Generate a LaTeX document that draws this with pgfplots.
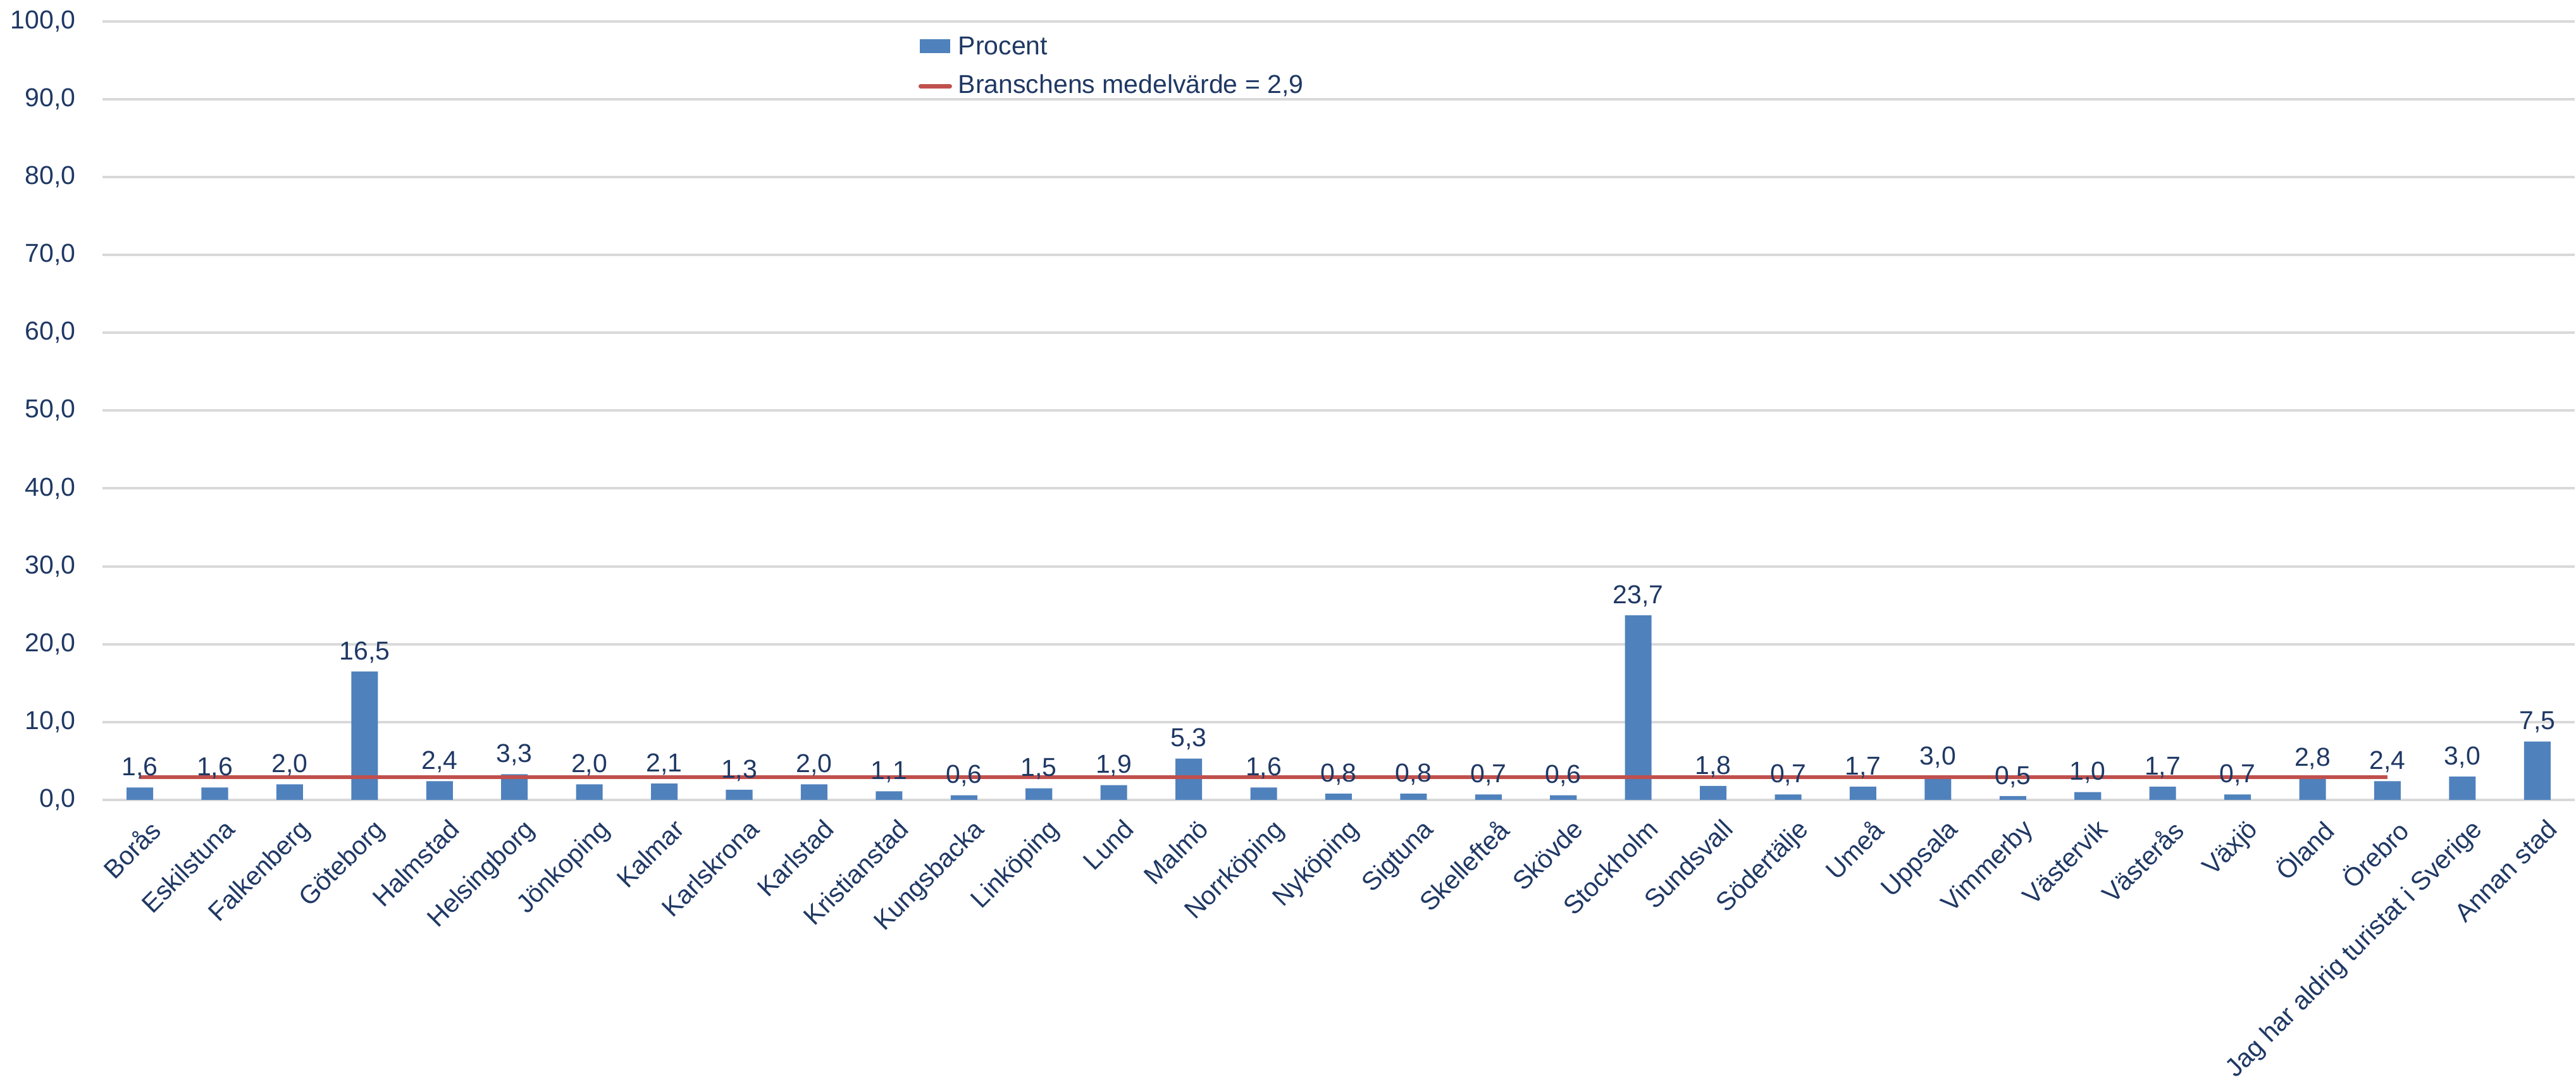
\documentclass[border=0pt]{standalone}
\usepackage{pgfplots}
\pgfplotsset{compat=1.18}
\usepackage{pgfplotstable}
\usepackage{fontspec}
\setmainfont{Liberation Sans}
\definecolor{txt}{HTML}{1F3864}
\definecolor{barblue}{HTML}{4F81BD}
\definecolor{avgred}{HTML}{C0504D}
\definecolor{gridgray}{HTML}{D9D9D9}
\pgfplotstableread{
x y
0 1.6
1 1.6
2 2.0
3 16.5
4 2.4
5 3.3
6 2.0
7 2.1
8 1.3
9 2.0
10 1.1
11 0.6
12 1.5
13 1.9
14 5.3
15 1.6
16 0.8
17 0.8
18 0.7
19 0.6
20 23.7
21 1.8
22 0.7
23 1.7
24 3.0
25 0.5
26 1.0
27 1.7
28 0.7
29 2.8
30 2.4
31 3.0
32 7.5
}\data
\newcommand{\lblfont}{\fontsize{8.2}{9.8}\selectfont}
\begin{document}
\begin{tikzpicture}
\begin{axis}[
  scale only axis,
  width=782pt, height=246.4pt,
  xmin=-0.5, xmax=32.5, ymin=0, ymax=100,
  ytick={0,10,...,100},
  xtick={0,...,32},
  xticklabels={Borås,Eskilstuna,Falkenberg,Göteborg,Halmstad,Helsingborg,Jönkoping,Kalmar,Karlskrona,Karlstad,Kristianstad,Kungsbacka,Linköping,Lund,Malmö,Norrköping,Nyköping,Sigtuna,Skellefteå,Skövde,Stockholm,Sundsvall,Södertälje,Umeå,Uppsala,Vimmerby,Västervik,Västerås,Växjö,Öland,Örebro,Jag har aldrig turistat i Sverige,Annan stad},
  xticklabel style={rotate=45, anchor=north east, font=\lblfont, text=txt, inner sep=1pt, xshift=-1pt, yshift=-4.6pt},
  yticklabel style={font=\lblfont, text=txt, xshift=-5pt},
  yticklabel={\pgfmathprintnumber[use comma,fixed,fixed zerofill,precision=1,assume math mode=true]{\tick}},
  axis line style={draw=none},
  major tick length=0pt,
  ymajorgrids,
  grid style={gridgray, line width=0.8pt},
  legend style={at={(0.326,0.997)}, anchor=north west, draw=none, fill=none, font=\lblfont, text=txt, row sep=0.8pt},
  legend cell align=left,
]
\path (rel axis cs:0,0) ++(-32.4pt,0pt);
\addplot[ybar, bar width=0.355, fill=barblue, draw=none,
  nodes near coords={\pgfmathprintnumber[use comma,fixed,fixed zerofill,precision=1,assume math mode=true]{\pgfplotspointmeta}},
  every node near coord/.append style={font=\lblfont, text=txt, inner sep=2.5pt},
  legend image code/.code={\fill[barblue] (0pt,-1.6pt) rectangle (9.6pt,2.8pt);}
] table[x=x,y=y]{\data};
\addlegendentry{Procent}
\addplot[avgred, line width=1.2pt, no marks,
  legend image code/.code={\draw[avgred, line width=1.3pt, line cap=round] (0.3pt,0pt) -- (9.6pt,0pt);}
] coordinates {(0,2.9) (30,2.9)};
\addlegendentry{Branschens medelvärde = 2,9}
\end{axis}
\end{tikzpicture}
\end{document}
